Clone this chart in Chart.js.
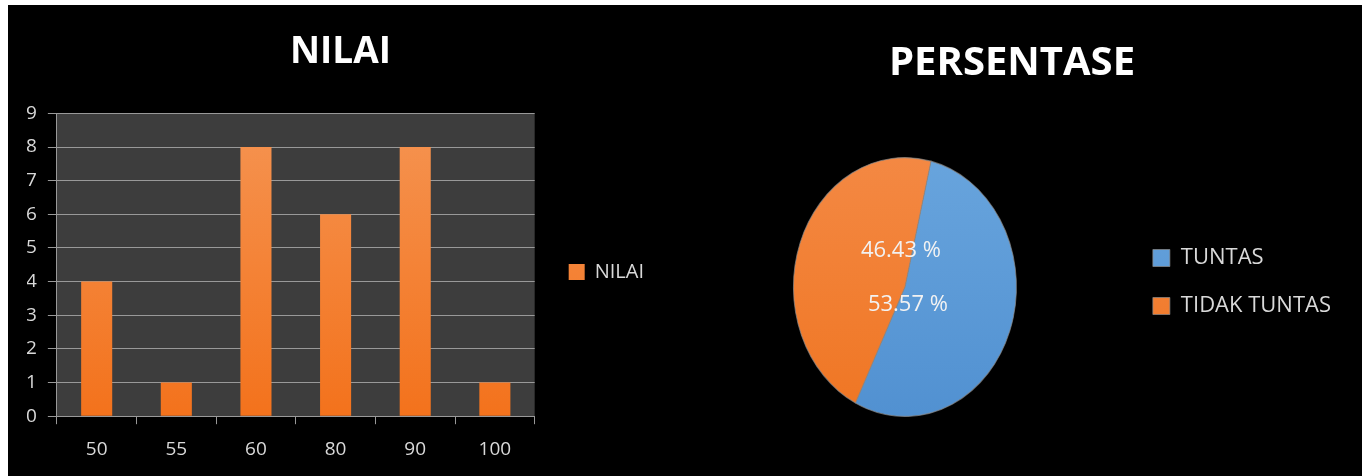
<!DOCTYPE html>
<html>
<head>
<meta charset="utf-8">
<script src="https://cdn.jsdelivr.net/npm/chart.js@4.4.0/dist/chart.umd.min.js"></script>
<style>
html, body { margin:0; padding:0; background:#fff; }
body { width:1362px; height:476px; position:relative; overflow:hidden; }
#board { position:absolute; left:8px; top:5px; width:1354px; height:471px; background:#000; }
#graph_nilai { position:absolute; left:0; top:0; }
#graph_persen { position:absolute; left:652px; top:0; }
</style>
</head>
<body>
<div id="board">
	<canvas id="graph_nilai" width="664" height="471"></canvas>
	<canvas id="graph_persen" width="702" height="471"></canvas>
</div>
<script>
// 데이터
const nilaiLabels = ['50', '55', '60', '80', '90', '100'];
const nilaiValues = [4, 1, 8, 6, 8, 1];
const nilaiMax = 9;

const persenLabels = ['TUNTAS', 'TIDAK TUNTAS'];
const persenValues = [53.57, 46.43];

const FONT = "'Open Sans', 'DejaVu Sans', sans-serif";
const TEXT_COLOR = '#d9d9d9';
const LINE_COLOR = '#999999';

Chart.defaults.font.family = FONT;

document.addEventListener("DOMContentLoaded", function() {
	gridGraphNilai();
	gridGraphPersen();
});

// 막대 그라데이션
function barFill(context) {
	let chart = context.chart;
	let area = chart.chartArea;
	if (!area) {
		return '#f2812f';
	}
	let g = chart.ctx.createLinearGradient(0, area.top, 0, area.bottom);
	g.addColorStop(0, '#f59452');
	g.addColorStop(1, '#f3721c');
	return g;
}

function pieFill(context) {
	let chart = context.chart;
	let area = chart.chartArea;
	let idx = context.dataIndex;
	let base = idx === 0 ? ['#6aa6de', '#4f8fd0'] : ['#f48a46', '#ef7420'];
	if (!area) {
		return base[0];
	}
	let g = chart.ctx.createLinearGradient(0, area.top - 20, 0, area.bottom + 20);
	g.addColorStop(0, base[0]);
	g.addColorStop(1, base[1]);
	return g;
}

// plot 배경
const plotBg = {
	id: 'plotBg',
	beforeDraw: function(chart) {
		let a = chart.chartArea;
		let ctx = chart.ctx;
		ctx.save();
		ctx.fillStyle = '#3d3d3d';
		ctx.fillRect(a.left, a.top, a.right - a.left, a.bottom - a.top);
		ctx.restore();
	}
};

function gridGraphNilai() {
	var ctx = document.getElementById('graph_nilai').getContext('2d');
	new Chart(ctx, {
		type: 'bar',
		data: {
			labels: nilaiLabels,
			datasets: [{
				label: 'NILAI',
				data: nilaiValues,
				backgroundColor: barFill,
				borderWidth: 0,
				barPercentage: 0.39,
				categoryPercentage: 1
			}]
		},
		options: {
			responsive: false,
			animation: false,
			layout: {
				padding: { left: 19, right: 18, top: 0, bottom: 1 }
			},
			scales: {
				x: {
					grid: { drawOnChartArea: false, color: LINE_COLOR, tickLength: 8 },
					border: { color: LINE_COLOR },
					ticks: { color: TEXT_COLOR, font: { size: 19 }, padding: 14 }
				},
				y: {
					min: 0,
					max: nilaiMax,
					grid: { color: LINE_COLOR, tickLength: 9 },
					border: { color: LINE_COLOR },
					ticks: { stepSize: 1, color: TEXT_COLOR, font: { size: 19 }, padding: 11 },
					// padding 이 두 번 계산되어 폭을 줄임
					afterFit: function(scale) {
						scale.width -= 12;
					}
				}
			},
			plugins: {
				title: {
					display: true,
					text: 'NILAI',
					color: '#ffffff',
					font: { size: 37, weight: 'bold' },
					padding: { top: 25, bottom: 39 }
				},
				legend: {
					position: 'right',
					// 빈 제목으로 항목을 아래로 내림
					title: { display: true, text: ' ', font: { size: 10 }, padding: { top: 0, bottom: 52 } },
					labels: { color: TEXT_COLOR, font: { size: 20 }, boxWidth: 16, boxHeight: 16, padding: 34 }
				},
				tooltip: { enabled: false }
			}
		},
		plugins: [plotBg]
	});
}

// 타원 모양 파이
const PIE_STRETCH = 130 / 112;
const pieStretch = {
	id: 'pieStretch',
	beforeDatasetsDraw: function(chart) {
		let arc = chart.getDatasetMeta(0).data[0];
		let ctx = chart.ctx;
		ctx.save();
		ctx.translate(arc.x, arc.y);
		ctx.scale(1, PIE_STRETCH);
		ctx.translate(-arc.x, -arc.y);
	},
	afterDatasetsDraw: function(chart) {
		chart.ctx.restore();
	}
};

const pieLabels = {
	id: 'pieLabels',
	afterDraw: function(chart) {
		let meta = chart.getDatasetMeta(0);
		let ctx = chart.ctx;
		let shift = [[3, 18], [-4, -36]];
		ctx.save();
		ctx.font = '22px ' + FONT;
		ctx.fillStyle = '#f2f2f2';
		ctx.textAlign = 'center';
		ctx.textBaseline = 'middle';
		meta.data.forEach(function(arc, i) {
			let txt = persenValues[i].toFixed(2) + ' %';
			ctx.fillText(txt, arc.x + shift[i][0], arc.y + shift[i][1]);
		});
		ctx.restore();
	}
};

function gridGraphPersen() {
	var ctx = document.getElementById('graph_persen').getContext('2d');
	new Chart(ctx, {
		type: 'pie',
		data: {
			labels: persenLabels,
			datasets: [{
				data: persenValues,
				backgroundColor: pieFill,
				borderWidth: 1,
				borderColor: 'rgba(140,140,140,0.7)',
				clip: false
			}]
		},
		options: {
			responsive: false,
			animation: false,
			rotation: 13.5,
			layout: {
				padding: { left: 23, right: 21, top: 0, bottom: 77 }
			},
			plugins: {
				title: {
					display: true,
					text: 'PERSENTASE',
					color: '#ffffff',
					font: { size: 40, weight: 'bold' },
					padding: { top: 35, bottom: 87 }
				},
				legend: {
					position: 'right',
					title: { display: true, text: ' ', font: { size: 10 }, padding: { top: 0, bottom: 148 } },
					labels: { color: TEXT_COLOR, font: { size: 22 }, boxWidth: 17, boxHeight: 17, padding: 26 }
				},
				tooltip: { enabled: false }
			}
		},
		plugins: [pieStretch, pieLabels]
	});
}
</script>
</body>
</html>
